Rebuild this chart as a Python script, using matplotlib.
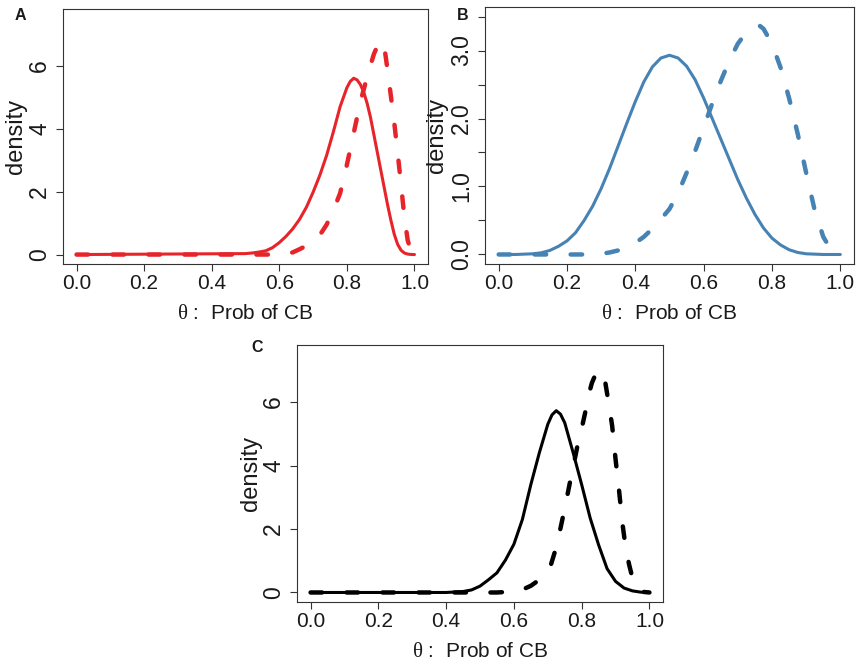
import matplotlib
matplotlib.use("Agg")
import matplotlib.pyplot as plt

plt.rcParams['font.family'] = ['Liberation Sans', 'DejaVu Sans']
plt.rcParams['mathtext.fontset'] = 'custom'
plt.rcParams['mathtext.rm'] = 'Liberation Serif'
plt.rcParams['lines.scale_dashes'] = False

# ---------------- data ----------------
x_ticks = [0.0, 0.2, 0.4, 0.6, 0.8, 1.0]
x_tick_labels = ["0.0", "0.2", "0.4", "0.6", "0.8", "1.0"]
yA_ticks = [0, 2, 4, 6]
yB_ticks = [0.0, 0.5, 1.0, 1.5, 2.0, 2.5, 3.0, 3.5]
yB_tick_labels = ["0.0", "", "1.0", "", "2.0", "", "3.0", ""]
yC_ticks = [0, 2, 4, 6]

# Panel A (red)
thetaA_solid = [0.0, 0.50, 0.52, 0.54, 0.56, 0.58, 0.60, 0.62, 0.64, 0.66, 0.68, 0.70,
                0.72, 0.74, 0.76, 0.78, 0.80, 0.81, 0.82, 0.83, 0.84, 0.85, 0.86, 0.87,
                0.88, 0.89, 0.90, 0.91, 0.92, 0.93, 0.94, 0.95, 0.96, 0.97, 0.98, 0.99, 1.0]
densA_solid = [0.0, 0.03, 0.05, 0.08, 0.12, 0.22, 0.38, 0.58, 0.82, 1.12, 1.5, 1.98,
               2.52, 3.15, 3.9, 4.7, 5.3, 5.5, 5.6, 5.55, 5.4, 5.15, 4.8, 4.35,
               3.8, 3.25, 2.7, 2.15, 1.6, 1.1, 0.65, 0.33, 0.14, 0.05, 0.015, 0.003, 0.0]
thetaA_dash = [0.0, 0.60, 0.62, 0.64, 0.66, 0.68, 0.70, 0.72, 0.74, 0.76, 0.78, 0.80,
               0.81, 0.82, 0.83, 0.84, 0.85, 0.86, 0.87, 0.88, 0.89, 0.90, 0.905, 0.91,
               0.915, 0.92, 0.93, 0.94, 0.95, 0.96, 0.97, 0.98, 0.99, 1.0]
densA_dash = [0.0, 0.0, 0.02, 0.07, 0.17, 0.28, 0.43, 0.62, 0.95, 1.4, 1.95, 2.85,
              3.35, 3.85, 4.35, 4.85, 5.25, 5.65, 6.02, 6.37, 6.62, 6.77, 6.78, 6.62,
              6.28, 5.88, 5.05, 4.2, 3.25, 2.25, 1.2, 0.45, 0.1, 0.0]

# Panel B (blue)
thetaB_solid = [0.0, 0.05, 0.1, 0.125, 0.15, 0.175, 0.2, 0.225, 0.25, 0.275, 0.3, 0.325,
                0.35, 0.375, 0.4, 0.425, 0.45, 0.475, 0.5, 0.525, 0.55, 0.575, 0.6,
                0.625, 0.65, 0.675, 0.7, 0.725, 0.75, 0.775, 0.8, 0.825, 0.85, 0.875,
                0.9, 0.95, 1.0]
densB_solid = [0.0, 0.0, 0.01, 0.025, 0.06, 0.12, 0.2, 0.32, 0.5, 0.71, 0.97, 1.27,
               1.6, 1.93, 2.25, 2.54, 2.76, 2.89, 2.93, 2.89, 2.77, 2.57, 2.3,
               2.0, 1.7, 1.4, 1.1, 0.83, 0.59, 0.39, 0.24, 0.14, 0.07, 0.03,
               0.01, 0.0, 0.0]
thetaB_dash = [0.0, 0.25, 0.3, 0.325, 0.35, 0.375, 0.4, 0.425, 0.45, 0.475, 0.5, 0.525,
               0.55, 0.575, 0.6, 0.625, 0.65, 0.675, 0.7, 0.725, 0.75, 0.765, 0.775,
               0.8, 0.825, 0.85, 0.875, 0.9, 0.925, 0.95, 0.975, 1.0]
densB_dash = [0.0, 0.0, 0.01, 0.03, 0.06, 0.1, 0.17, 0.26, 0.38, 0.52, 0.67, 0.9,
              1.2, 1.52, 1.87, 2.22, 2.55, 2.85, 3.1, 3.27, 3.35, 3.36, 3.32,
              3.1, 2.75, 2.3, 1.78, 1.2, 0.65, 0.26, 0.05, 0.0]

# Panel C (black)
thetaC_solid = [0.0, 0.40, 0.45, 0.475, 0.5, 0.525, 0.55, 0.575, 0.6, 0.625, 0.65, 0.675,
                0.7, 0.7125, 0.725, 0.7375, 0.75, 0.775, 0.8, 0.825, 0.85, 0.875, 0.9,
                0.925, 0.95, 0.975, 1.0]
densC_solid = [0.0, 0.0, 0.03, 0.08, 0.2, 0.4, 0.62, 1.02, 1.52, 2.3, 3.4, 4.4,
               5.3, 5.6, 5.73, 5.62, 5.35, 4.4, 3.4, 2.35, 1.5, 0.75, 0.35,
               0.14, 0.05, 0.01, 0.0]
thetaC_dash = [0.0, 0.55, 0.6, 0.625, 0.65, 0.675, 0.7, 0.71, 0.72, 0.73, 0.74, 0.75,
               0.76, 0.77, 0.78, 0.79, 0.8, 0.81, 0.82, 0.83, 0.84, 0.85, 0.86, 0.87,
               0.88, 0.89, 0.9, 0.91, 0.92, 0.93, 0.94, 0.95, 0.96, 0.97, 0.98, 1.0]
densC_dash = [0.0, 0.0, 0.03, 0.09, 0.21, 0.4, 0.68, 0.9, 1.25, 1.65, 2.15, 2.65,
              3.18, 3.72, 4.22, 4.75, 5.17, 5.65, 6.2, 6.6, 6.85, 6.98, 6.98, 6.6,
              5.95, 5.25, 4.2, 3.25, 2.2, 1.4, 0.88, 0.45, 0.18, 0.06, 0.02, 0.0]

RED = '#E8242B'
BLUE = '#4682B4'
BLACK = '#000000'
TXT = '#1a1a1a'

W, H = 858, 662
fig = plt.figure(figsize=(W / 100, H / 100), dpi=100)


def px_axes(l, t, r, b):
    return fig.add_axes([l / W, 1 - b / H, (r - l) / W, (b - t) / H])


def style(ax, yticks, ylabels, ylim, ylab_x):
    ax.set_xlim(-0.04, 1.04)
    ax.set_ylim(*ylim)
    ax.set_xticks(x_ticks, x_tick_labels)
    ax.set_yticks(yticks, ylabels, rotation=90, va='center')
    ax.tick_params(axis='both', direction='out', length=5, width=0.8,
                   colors='#333333', labelcolor=TXT)
    ax.tick_params(axis='x', pad=2, labelsize=15)
    ax.tick_params(axis='y', pad=3.5, labelsize=16.5)
    for s in ax.spines.values():
        s.set_color('#333333')
        s.set_linewidth(0.8)
    ax.set_xlabel(r'$\mathrm{\theta}$ :  Prob of CB', fontsize=15, color=TXT)
    ax.xaxis.set_label_coords(0.5, -0.155)
    ax.set_ylabel('density', fontsize=17, color=TXT)
    ax.yaxis.set_label_coords(ylab_x, 0.5)


def curves(ax, ts, ds, td, dd, color):
    ax.plot(ts, ds, color=color, lw=2.2, solid_joinstyle='round', solid_capstyle='round')
    ax.plot(td, dd, color=color, lw=3.2, dashes=(8.3, 17.6),
            dash_capstyle='round', dash_joinstyle='round')


axA = px_axes(63, 9, 428, 264)
curves(axA, thetaA_solid, densA_solid, thetaA_dash, densA_dash, RED)
style(axA, yA_ticks, [str(v) for v in yA_ticks], (-0.3, 7.8), -0.098)

axB = px_axes(485, 7, 854, 264)
curves(axB, thetaB_solid, densB_solid, thetaB_dash, densB_dash, BLUE)
style(axB, yB_ticks, yB_tick_labels, (-0.14, 3.64), -0.1)

axC = px_axes(297, 345, 663, 602)
curves(axC, thetaC_solid, densC_solid, thetaC_dash, densC_dash, BLACK)
style(axC, yC_ticks, [str(v) for v in yC_ticks], (-0.3, 7.8), -0.095)

for lab, (x, y) in {'A': (20.5, 15), 'B': (463, 15.5), 'C': (257, 347)}.items():
    fig.text(x / W, 1 - y / H, lab, fontsize=11.5, fontweight='bold',
             ha='center', va='center', color=TXT)

fig.savefig('out.png', dpi=100)
